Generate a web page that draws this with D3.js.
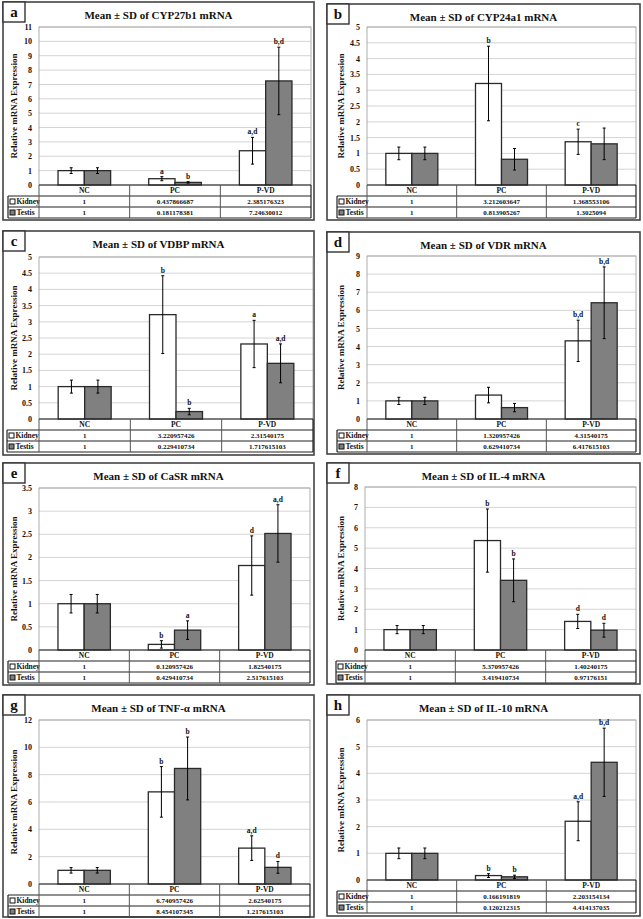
<!DOCTYPE html>
<html>
<head>
<meta charset="utf-8">
<script src="https://cdn.jsdelivr.net/npm/d3@7"></script>
<style>
body { margin: 0; background: #fff; }
text { font-family: "Liberation Serif", "Times New Roman", serif; font-weight: bold; fill: #111; }
</style>
</head>
<body>
<div id="chart"></div>
<script>
// categories and series
const groups = ["NC", "PC", "P-VD"]
const series = ["Kidney", "Testis"]
const letters = ["a", "b", "c", "d", "e", "f", "g", "h"]
const genes = ["CYP27b1", "CYP24a1", "VDBP", "VDR", "CaSR", "IL-4", "TNF-α", "IL-10"]
const yMax = [11, 5, 5, 9, 3.5, 8, 12, 6]
const yStep = [1, 0.5, 0.5, 1, 0.5, 1, 2, 1]

// a - CYP27b1
const cyp27b1Kidney = [1, 0.437866687, 2.385176323]
const cyp27b1Testis = [1, 0.181178381, 7.24630012]
const cyp27b1KidneySD = [0.2, 0.14, 0.93]
const cyp27b1TestisSD = [0.2, 0.05, 2.35]
const cyp27b1KidneySig = ["", "a", "a,d"]
const cyp27b1TestisSig = ["", "b", "b,d"]
// b - CYP24a1
const cyp24a1Kidney = [1, 3.212603647, 1.368553106]
const cyp24a1Testis = [1, 0.813905267, 1.3025094]
const cyp24a1KidneySD = [0.2, 1.18, 0.4]
const cyp24a1TestisSD = [0.2, 0.34, 0.5]
const cyp24a1KidneySig = ["", "b", "c"]
const cyp24a1TestisSig = ["", "", ""]
// c - VDBP
const vdbpKidney = [1, 3.220957426, 2.31540175]
const vdbpTestis = [1, 0.229410734, 1.717615103]
const vdbpKidneySD = [0.2, 1.2, 0.73]
const vdbpTestisSD = [0.2, 0.1, 0.6]
const vdbpKidneySig = ["", "b", "a"]
const vdbpTestisSig = ["", "b", "a,d"]
// d - VDR
const vdrKidney = [1, 1.320957426, 4.31540175]
const vdrTestis = [1, 0.629410734, 6.417615103]
const vdrKidneySD = [0.2, 0.43, 1.14]
const vdrTestisSD = [0.2, 0.23, 1.98]
const vdrKidneySig = ["", "", "b,d"]
const vdrTestisSig = ["", "", "b,d"]
// e - CaSR
const casrKidney = [1, 0.120957426, 1.82540175]
const casrTestis = [1, 0.429410734, 2.517615103]
const casrKidneySD = [0.2, 0.08, 0.64]
const casrTestisSD = [0.2, 0.2, 0.62]
const casrKidneySig = ["", "b", "d"]
const casrTestisSig = ["", "a", "a,d"]
// f - IL-4
const il4Kidney = [1, 5.370957426, 1.40240175]
const il4Testis = [1, 3.419410734, 0.97176151]
const il4KidneySD = [0.2, 1.55, 0.35]
const il4TestisSD = [0.2, 1.05, 0.34]
const il4KidneySig = ["", "b", "d"]
const il4TestisSig = ["", "b", "d"]
// g - TNF-α
const tnfKidney = [1, 6.740957426, 2.62540175]
const tnfTestis = [1, 8.454107345, 1.217615103]
const tnfKidneySD = [0.2, 1.85, 0.9]
const tnfTestisSD = [0.2, 2.3, 0.43]
const tnfKidneySig = ["", "b", "a,d"]
const tnfTestisSig = ["", "b", "d"]
// h - IL-10
const il10Kidney = [1, 0.166191819, 2.203154134]
const il10Testis = [1, 0.120212315, 4.414137035]
const il10KidneySD = [0.2, 0.07, 0.73]
const il10TestisSD = [0.2, 0.06, 1.28]
const il10KidneySig = ["", "b", "a,d"]
const il10TestisSig = ["", "b", "b,d"]

const means = [
    [cyp27b1Kidney, cyp27b1Testis], [cyp24a1Kidney, cyp24a1Testis], [vdbpKidney, vdbpTestis], [vdrKidney, vdrTestis],
    [casrKidney, casrTestis], [il4Kidney, il4Testis], [tnfKidney, tnfTestis], [il10Kidney, il10Testis]
]
const sds = [
    [cyp27b1KidneySD, cyp27b1TestisSD], [cyp24a1KidneySD, cyp24a1TestisSD], [vdbpKidneySD, vdbpTestisSD], [vdrKidneySD, vdrTestisSD],
    [casrKidneySD, casrTestisSD], [il4KidneySD, il4TestisSD], [tnfKidneySD, tnfTestisSD], [il10KidneySD, il10TestisSD]
]
const sigs = [
    [cyp27b1KidneySig, cyp27b1TestisSig], [cyp24a1KidneySig, cyp24a1TestisSig], [vdbpKidneySig, vdbpTestisSig], [vdrKidneySig, vdrTestisSig],
    [casrKidneySig, casrTestisSig], [il4KidneySig, il4TestisSig], [tnfKidneySig, tnfTestisSig], [il10KidneySig, il10TestisSig]
]

// layout: frame box, plot box, legend column left edge
const layout = [
    { frame: [3, 2, 314, 220],   plot: [39, 27, 311, 185],  legend: 8 },
    { frame: [327, 4, 640, 220], plot: [367, 27, 636, 185], legend: 337 },
    { frame: [3, 231, 314, 455], plot: [39, 257, 313, 419], legend: 7 },
    { frame: [327, 232, 640, 454], plot: [367, 256, 636, 419], legend: 337 },
    { frame: [3, 463, 314, 685], plot: [39, 488, 310, 650], legend: 8 },
    { frame: [327, 463, 640, 684], plot: [365, 487, 636, 650], legend: 336 },
    { frame: [3, 695, 314, 917], plot: [39, 720, 310, 884], legend: 8 },
    { frame: [327, 695, 640, 916], plot: [367, 720, 636, 880], legend: 337 }
]
const rowH = 11
const fills = ["#ffffff", "#808080"]

const width = 643
const height = 919

const svg = d3.select("div#chart").append("svg")
    .attr("width", width)
    .attr("height", height)

letters.forEach((letter, i) => {
    const L = layout[i]
    const [fx0, fy0, fx1, fy1] = L.frame
    const [pl, pt, pr, pb] = L.plot
    const g = svg.append("g").attr("class", "panel")

    // outer frame
    g.append("rect")
        .attr("x", fx0).attr("y", fy0)
        .attr("width", fx1 - fx0).attr("height", fy1 - fy0)
        .attr("fill", "#fff").attr("stroke", "#444").attr("stroke-width", 1.6)

    const x = d3.scaleBand().domain(groups).range([pl, pr])
    const y = d3.scaleLinear().domain([0, yMax[i]]).range([pb, pt])
    const tickVals = d3.range(0, yMax[i] + yStep[i] / 2, yStep[i])

    // grid
    g.append("g").selectAll("line")
        .data(tickVals.filter(d => d > 0))
        .enter().append("line")
        .attr("x1", pl).attr("x2", pr)
        .attr("y1", d => y(d)).attr("y2", d => y(d))
        .attr("stroke", "#d4d4d4").attr("stroke-width", 1)

    // plot area border
    g.append("rect")
        .attr("x", pl).attr("y", pt)
        .attr("width", pr - pl).attr("height", pb - pt)
        .attr("fill", "none").attr("stroke", "#9a9a9a").attr("stroke-width", 0.8)

    // y axis labels
    const yAxis = d3.axisLeft(y).tickValues(tickVals).tickSize(0).tickPadding(7)
        .tickFormat(d => String(d))
    const yAxisGroup = g.append("g").attr("transform", `translate(${pl}, 0)`).call(yAxis)
    yAxisGroup.select(".domain").remove()
    yAxisGroup.selectAll("text")
        .style("font-family", "'Liberation Serif', serif").style("font-weight", "bold")
        .style("font-size", "8px").attr("fill", "#111")

    // y title
    g.append("text")
        .attr("transform", `translate(${fx0 + (i % 2 ? 14 : 11)}, ${(pt + pb) / 2}) rotate(-90)`)
        .attr("text-anchor", "middle").attr("dy", "0.35em")
        .style("font-size", "9px")
        .text("Relative mRNA Expression")

    // title
    g.append("text")
        .attr("x", (fx0 + fx1) / 2).attr("y", fy0 + 17)
        .attr("text-anchor", "middle")
        .style("font-size", "11px")
        .text(`Mean ± SD of ${genes[i]} mRNA`)

    // letter box
    g.append("rect")
        .attr("x", fx0).attr("y", fy0).attr("width", 22).attr("height", 20)
        .attr("fill", "#fff").attr("stroke", "#333").attr("stroke-width", 1.4)
    g.append("text")
        .attr("x", fx0 + 11).attr("y", fy0 + 15)
        .attr("text-anchor", "middle")
        .style("font-size", "15px")
        .text(letter)

    // bars
    const barW = x.bandwidth() * 0.29
    const barData = []
    series.forEach((s, si) => {
        groups.forEach((grp, gi) => {
            barData.push({
                s: si, grp: grp,
                v: means[i][si][gi], sd: sds[i][si][gi], sig: sigs[i][si][gi]
            })
        })
    })
    const bx = d => x(d.grp) + x.bandwidth() / 2 + (d.s - 1) * barW

    g.append("g").selectAll("rect")
        .data(barData)
        .enter().append("rect")
        .attr("x", bx)
        .attr("y", d => y(d.v))
        .attr("width", barW)
        .attr("height", d => pb - y(d.v))
        .attr("fill", d => fills[d.s])
        .attr("stroke", "#2a2a2a").attr("stroke-width", 1.3)

    // error bars
    const eb = g.append("g").selectAll("g")
        .data(barData)
        .enter().append("g")
    eb.append("line")
        .attr("x1", d => bx(d) + barW / 2).attr("x2", d => bx(d) + barW / 2)
        .attr("y1", d => y(Math.max(0, d.v - d.sd))).attr("y2", d => y(d.v + d.sd))
        .attr("stroke", "#000").attr("stroke-width", 1)
    eb.append("line")
        .attr("x1", d => bx(d) + barW / 2 - 1.5).attr("x2", d => bx(d) + barW / 2 + 1.5)
        .attr("y1", d => y(d.v + d.sd)).attr("y2", d => y(d.v + d.sd))
        .attr("stroke", "#000").attr("stroke-width", 1)
    eb.append("line")
        .attr("x1", d => bx(d) + barW / 2 - 1.5).attr("x2", d => bx(d) + barW / 2 + 1.5)
        .attr("y1", d => y(Math.max(0, d.v - d.sd))).attr("y2", d => y(Math.max(0, d.v - d.sd)))
        .attr("stroke", "#000").attr("stroke-width", 1)
    eb.append("text")
        .attr("x", d => bx(d) + barW / 2)
        .attr("y", d => y(d.v + d.sd) - 3)
        .attr("text-anchor", "middle")
        .style("font-size", "7.5px")
        .text(d => d.sig)

    // data table
    const tb = g.append("g")
    const tTop = pb
    const tBot = pb + rowH * 3
    // horizontal lines
    tb.append("line").attr("x1", pl).attr("x2", pr).attr("y1", tTop).attr("y2", tTop)
        .attr("stroke", "#222").attr("stroke-width", 1.2)
    ;[1, 2, 3].forEach(r => {
        tb.append("line").attr("x1", L.legend).attr("x2", pr)
            .attr("y1", tTop + r * rowH).attr("y2", tTop + r * rowH)
            .attr("stroke", "#222").attr("stroke-width", 1.2)
    })
    // vertical lines
    tb.append("line").attr("x1", L.legend).attr("x2", L.legend)
        .attr("y1", tTop + rowH).attr("y2", tBot).attr("stroke", "#222").attr("stroke-width", 1.2)
    groups.forEach(grp => {
        tb.append("line").attr("x1", x(grp)).attr("x2", x(grp))
            .attr("y1", tTop).attr("y2", tBot).attr("stroke", "#555").attr("stroke-width", 1)
    })
    tb.append("line").attr("x1", pr).attr("x2", pr)
        .attr("y1", tTop).attr("y2", tBot).attr("stroke", "#222").attr("stroke-width", 1.2)

    // header
    tb.selectAll(".hdr").data(groups).enter().append("text")
        .attr("x", d => x(d) + x.bandwidth() / 2).attr("y", tTop + rowH / 2)
        .attr("dy", "0.35em").attr("text-anchor", "middle")
        .style("font-size", "7.5px")
        .text(d => d)

    series.forEach((s, si) => {
        const ry = tTop + rowH * (si + 1) + rowH / 2
        tb.append("rect")
            .attr("x", L.legend + 2).attr("y", ry - 2.5).attr("width", 5).attr("height", 5)
            .attr("fill", fills[si]).attr("stroke", "#111").attr("stroke-width", 1)
        tb.append("text")
            .attr("x", L.legend + 8.5).attr("y", ry).attr("dy", "0.35em")
            .style("font-size", "7.5px")
            .text(s)
        tb.selectAll(".val" + si).data(groups).enter().append("text")
            .attr("x", d => x(d) + x.bandwidth() / 2).attr("y", ry)
            .attr("dy", "0.35em").attr("text-anchor", "middle")
            .style("font-size", "7px")
            .text((d, gi) => String(means[i][si][gi]))
    })
})
</script>
</body>
</html>
